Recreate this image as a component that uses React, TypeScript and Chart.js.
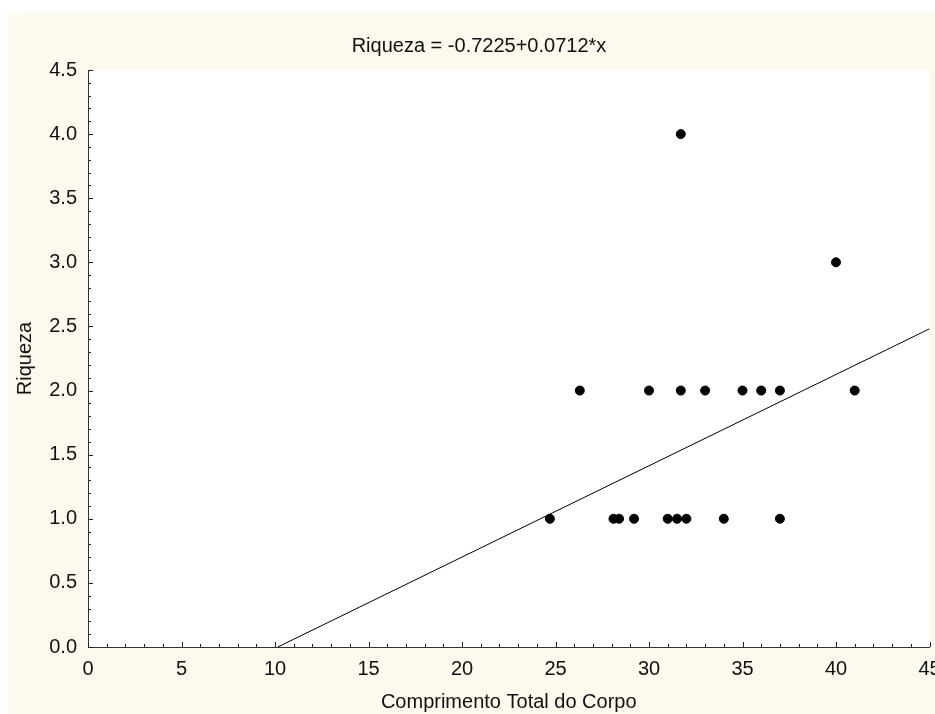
import React, { useEffect, useRef } from 'react';
import { Chart, registerables } from 'chart.js';

Chart.register(...registerables);

// ---- text ----
const chartTitle = 'Riqueza = -0.7225+0.0712*x';
const xAxisTitle = 'Comprimento Total do Corpo';
const yAxisTitle = 'Riqueza';

// ---- data ----
const comprimento = [31.7, 40.0, 26.3, 30.0, 31.7, 33.0, 35.0, 36.0, 37.0, 41.0, 24.7, 28.1, 28.4, 29.2, 31.0, 31.5, 32.0, 34.0, 37.0];
const riqueza = [4, 3, 2, 2, 2, 2, 2, 2, 2, 2, 1, 1, 1, 1, 1, 1, 1, 1, 1];

// regression line end points
const fitX = [10.15, 45];
const fitY = [0, 2.4815];

// ---- axes ----
const xMin = 0;
const xMax = 45;
const xStep = 5;
const xMinorStep = 1;
const yMin = 0;
const yMax = 4.5;
const yStep = 0.5;
const yMinorStep = 0.1;

const FONT = '"Liberation Sans", Arial, sans-serif';
const FONT_SIZE = 20;
const CREAM = '#fdf9ef';
const INK = '#111111';

const backgroundPlugin = {
  id: 'panelBackground',
  beforeDraw(chart: any) {
    const { ctx, width, height, chartArea } = chart;
    ctx.save();
    ctx.fillStyle = '#ffffff';
    ctx.fillRect(0, 0, width, height);
    ctx.fillStyle = CREAM;
    ctx.fillRect(8, 13, width - 8, height - 13);
    ctx.fillStyle = '#ffffff';
    ctx.fillRect(chartArea.left, chartArea.top, chartArea.right - chartArea.left, chartArea.bottom - chartArea.top);
    ctx.restore();
  },
};

const innerTicksPlugin = {
  id: 'innerTicks',
  afterDraw(chart: any) {
    const { ctx, chartArea, scales } = chart;
    const xs = scales.x;
    const ys = scales.y;
    ctx.save();
    ctx.strokeStyle = '#222222';
    ctx.lineWidth = 1;
    const nX = Math.round((xMax - xMin) / xMinorStep);
    for (let i = 0; i <= nX; i++) {
      const v = xMin + i * xMinorStep;
      const px = Math.round(xs.getPixelForValue(v)) + 0.5;
      const major = Math.abs(v / xStep - Math.round(v / xStep)) < 1e-6;
      const len = major ? 5 : 3;
      ctx.beginPath();
      ctx.moveTo(px, chartArea.bottom);
      ctx.lineTo(px, chartArea.bottom - len);
      ctx.stroke();
    }
    const nY = Math.round((yMax - yMin) / yMinorStep);
    for (let j = 0; j <= nY; j++) {
      const v = yMin + j * yMinorStep;
      const py = Math.round(ys.getPixelForValue(v)) + 0.5;
      const major = Math.abs(v / yStep - Math.round(v / yStep)) < 1e-6;
      const len = major ? 5 : 3;
      ctx.beginPath();
      ctx.moveTo(chartArea.left, py);
      ctx.lineTo(chartArea.left + len, py);
      ctx.stroke();
    }
    ctx.restore();
  },
};

const titlePlugin = {
  id: 'centerTitle',
  afterDraw(chart: any) {
    const { ctx } = chart;
    ctx.save();
    ctx.font = `${FONT_SIZE}px ${FONT}`;
    ctx.fillStyle = INK;
    ctx.textAlign = 'center';
    ctx.textBaseline = 'middle';
    ctx.fillText(chartTitle, 479, 46);
    ctx.restore();
  },
};

export default function App() {
  const canvasRef = useRef<HTMLCanvasElement | null>(null);

  useEffect(() => {
    const canvas = canvasRef.current;
    if (!canvas) return;
    const points = comprimento.map((x, i) => ({ x, y: riqueza[i] }));
    const fit = fitX.map((x, i) => ({ x, y: fitY[i] }));
    const chart = new Chart(canvas, {
      type: 'scatter',
      data: {
        datasets: [
          {
            type: 'scatter',
            label: 'Riqueza',
            data: points,
            pointRadius: 4.5,
            pointBorderWidth: 1,
            backgroundColor: '#000000',
            borderColor: '#000000',
            pointHoverRadius: 4.5,
          },
          {
            type: 'line',
            label: 'Ajuste',
            data: fit,
            borderColor: '#000000',
            borderWidth: 1,
            pointRadius: 0,
            fill: false,
            tension: 0,
          },
        ],
      } as any,
      options: {
        animation: false,
        responsive: false,
        devicePixelRatio: 1,
        events: [],
        layout: { padding: { left: 8, top: 70, right: 4, bottom: 0 } },
        plugins: {
          legend: { display: false },
          title: { display: false },
          tooltip: { enabled: false },
        },
        scales: {
          x: {
            type: 'linear',
            min: xMin,
            max: xMax,
            grid: { display: false, drawTicks: false },
            border: { display: true, color: '#333333', width: 1 },
            ticks: {
              stepSize: xStep,
              color: INK,
              font: { family: FONT, size: FONT_SIZE },
              padding: 10,
              maxRotation: 0,
              autoSkip: false,
              callback: (v: any) => String(v),
            },
            title: {
              display: true,
              text: xAxisTitle,
              color: INK,
              font: { family: FONT, size: FONT_SIZE },
              padding: { top: 0, bottom: 0 },
            },
            afterFit: (scale: any) => {
              scale.height = 67;
              scale.paddingLeft = 0;
              scale.paddingRight = 0;
            },
          },
          y: {
            type: 'linear',
            min: yMin,
            max: yMax,
            grid: { display: false, drawTicks: false },
            border: { display: true, color: '#333333', width: 1 },
            ticks: {
              stepSize: yStep,
              color: INK,
              font: { family: FONT, size: FONT_SIZE },
              padding: 11,
              autoSkip: false,
              callback: (v: any) => Number(v).toFixed(1),
            },
            title: {
              display: true,
              text: yAxisTitle,
              color: INK,
              font: { family: FONT, size: FONT_SIZE },
              padding: { top: 5, bottom: 0 },
            },
            afterFit: (scale: any) => {
              scale.width = 80;
              scale.paddingTop = 0;
              scale.paddingBottom = 0;
            },
          },
        },
      },
      plugins: [backgroundPlugin, innerTicksPlugin, titlePlugin],
    });
    return () => chart.destroy();
  }, []);

  return (
    <div style={{ position: 'absolute', left: 0, top: 0, width: 935, height: 714 }}>
      <canvas ref={canvasRef} width={935} height={714} style={{ display: 'block', width: 935, height: 714 }} />
    </div>
  );
}
